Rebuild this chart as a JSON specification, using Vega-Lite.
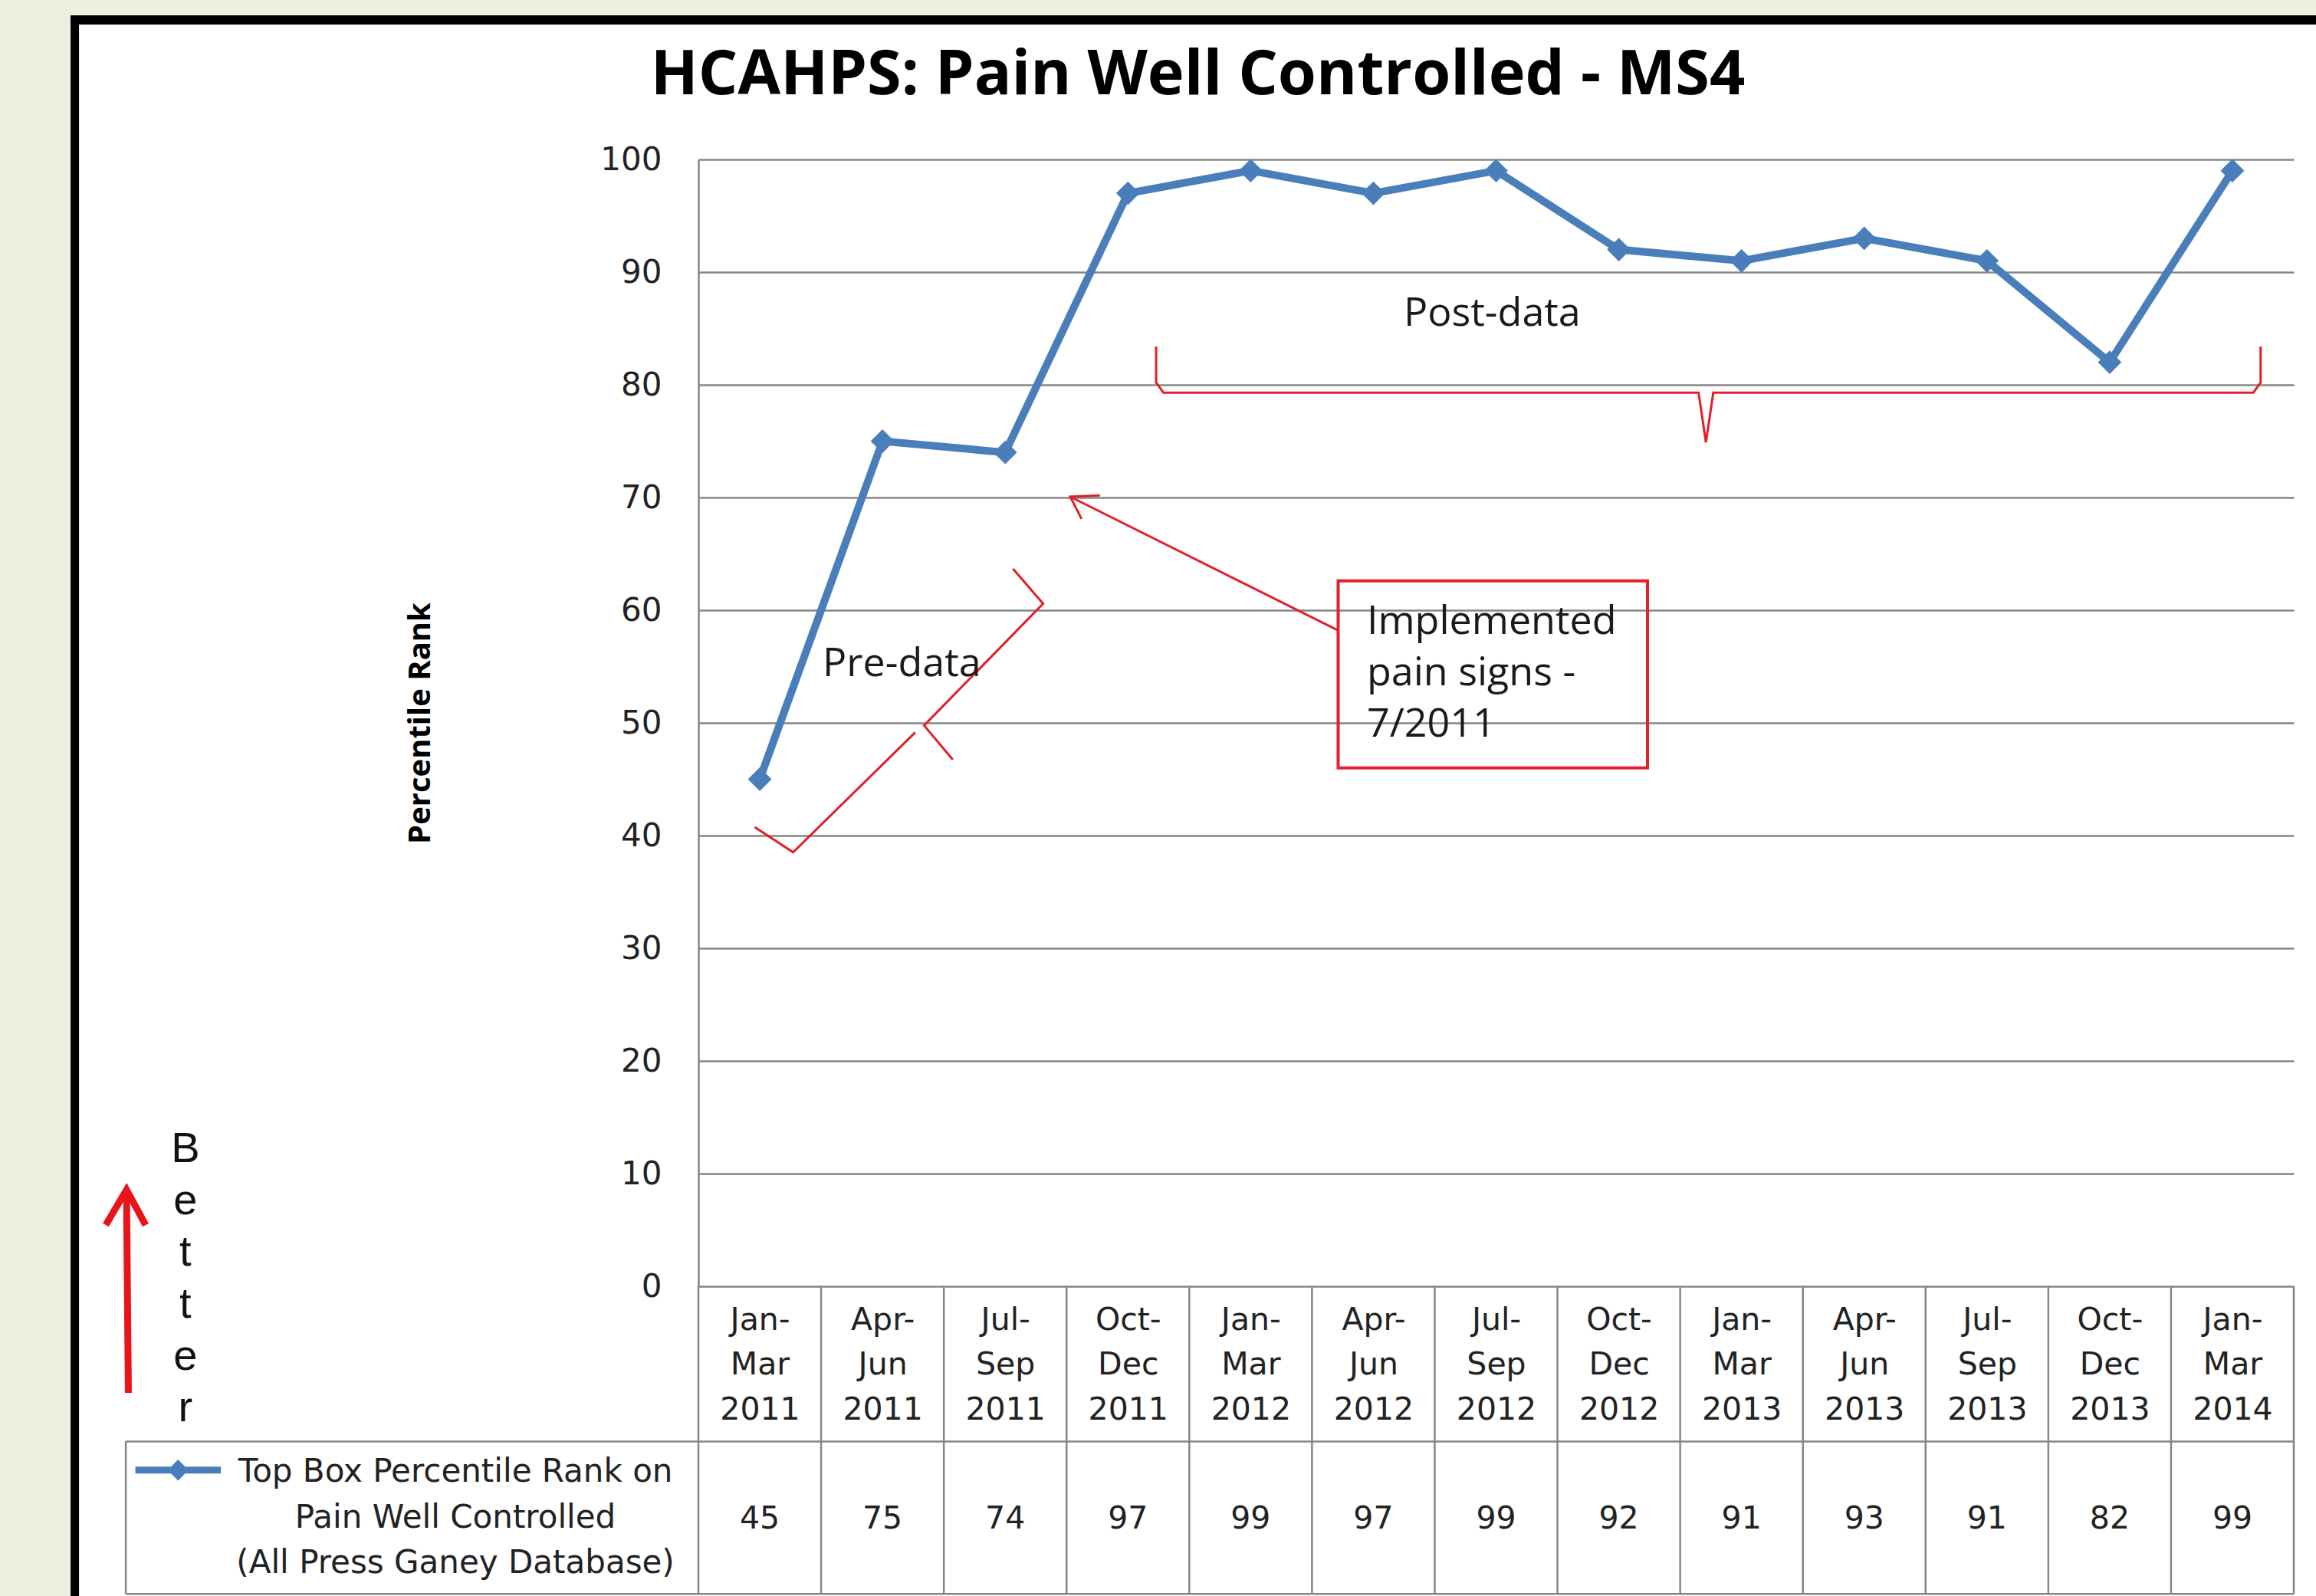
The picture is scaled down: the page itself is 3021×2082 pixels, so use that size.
{
  "$schema": "https://vega.github.io/schema/vega-lite/v6.json",
  "width": 2081,
  "height": 1470,
  "autosize": {"type": "none"},
  "padding": {"left": 911, "top": 208, "right": 29, "bottom": 404},
  "background": "#ffffff",
  "config": {"view": {"stroke": null}},
  "datasets": {
    "series": [
      {"quarter": "Jan-\nMar\n2011", "rank": 45},
      {"quarter": "Apr-\nJun\n2011", "rank": 75},
      {"quarter": "Jul-\nSep\n2011", "rank": 74},
      {"quarter": "Oct-\nDec\n2011", "rank": 97},
      {"quarter": "Jan-\nMar\n2012", "rank": 99},
      {"quarter": "Apr-\nJun\n2012", "rank": 97},
      {"quarter": "Jul-\nSep\n2012", "rank": 99},
      {"quarter": "Oct-\nDec\n2012", "rank": 92},
      {"quarter": "Jan-\nMar\n2013", "rank": 91},
      {"quarter": "Apr-\nJun\n2013", "rank": 93},
      {"quarter": "Jul-\nSep\n2013", "rank": 91},
      {"quarter": "Oct-\nDec\n2013", "rank": 82},
      {"quarter": "Jan-\nMar\n2014", "rank": 99}
    ],
    "strips": [
      {"x": -6, "x2": -5.116, "y": -40, "y2": 125},
      {"x": -6, "x2": 14, "y": 112.79, "y2": 125}
    ],
    "frameBars": [
      {"x": -5.116, "x2": -5.047, "y": -40, "y2": 112.79},
      {"x": -5.116, "x2": 14, "y": 111.97, "y2": 112.79}
    ],
    "tableLines": [
      {"x": 0, "x2": 0, "y": 0, "y2": -27.3},
      {"x": 1, "x2": 1, "y": 0, "y2": -27.3},
      {"x": 2, "x2": 2, "y": 0, "y2": -27.3},
      {"x": 3, "x2": 3, "y": 0, "y2": -27.3},
      {"x": 4, "x2": 4, "y": 0, "y2": -27.3},
      {"x": 5, "x2": 5, "y": 0, "y2": -27.3},
      {"x": 6, "x2": 6, "y": 0, "y2": -27.3},
      {"x": 7, "x2": 7, "y": 0, "y2": -27.3},
      {"x": 8, "x2": 8, "y": 0, "y2": -27.3},
      {"x": 9, "x2": 9, "y": 0, "y2": -27.3},
      {"x": 10, "x2": 10, "y": 0, "y2": -27.3},
      {"x": 11, "x2": 11, "y": 0, "y2": -27.3},
      {"x": 12, "x2": 12, "y": 0, "y2": -27.3},
      {"x": 13, "x2": 13, "y": 0, "y2": -27.3},
      {"x": -4.666, "x2": -4.666, "y": -13.78, "y2": -27.3},
      {"x": -4.666, "x2": 13, "y": -13.78, "y2": -13.78},
      {"x": -4.666, "x2": 13, "y": -27.3, "y2": -27.3}
    ],
    "redLines": [
      {"path": "post", "i": 0, "x": 3.73, "y": 83.4},
      {"path": "post", "i": 1, "x": 3.73, "y": 80.2},
      {"path": "post", "i": 2, "x": 3.79, "y": 79.3},
      {"path": "post", "i": 3, "x": 8.15, "y": 79.3},
      {"path": "post", "i": 4, "x": 8.21, "y": 74.9},
      {"path": "post", "i": 5, "x": 8.27, "y": 79.3},
      {"path": "post", "i": 6, "x": 12.67, "y": 79.3},
      {"path": "post", "i": 7, "x": 12.73, "y": 80.2},
      {"path": "post", "i": 8, "x": 12.73, "y": 83.4},
      {"path": "preA", "i": 0, "x": 2.564, "y": 63.67},
      {"path": "preA", "i": 1, "x": 2.809, "y": 60.58},
      {"path": "preA", "i": 2, "x": 1.839, "y": 49.77},
      {"path": "preA", "i": 3, "x": 2.073, "y": 46.73},
      {"path": "preB", "i": 0, "x": 1.767, "y": 49.16},
      {"path": "preB", "i": 1, "x": 0.772, "y": 38.52},
      {"path": "preB", "i": 2, "x": 0.459, "y": 40.75},
      {"path": "callShaft", "i": 0, "x": 5.213, "y": 58.2},
      {"path": "callShaft", "i": 1, "x": 3.03, "y": 70.07},
      {"path": "callHead", "i": 0, "x": 3.272, "y": 70.18},
      {"path": "callHead", "i": 1, "x": 3.03, "y": 70.07},
      {"path": "callHead", "i": 2, "x": 3.122, "y": 68.1}
    ],
    "calloutBox": [
      {"x": 5.213, "x2": 7.734, "y": 46.0, "y2": 62.6}
    ],
    "betterArrow": [
      {"path": "shaft", "i": 0, "x": -4.645, "y": -9.46},
      {"path": "shaft", "i": 1, "x": -4.66, "y": 8.2},
      {"path": "head", "i": 0, "x": -4.829, "y": 5.44},
      {"path": "head", "i": 1, "x": -4.66, "y": 8.57},
      {"path": "head", "i": 2, "x": -4.504, "y": 5.44}
    ],
    "notes": [
      {"x": 1.012, "y": 54.15, "text": "Pre-data"},
      {"x": 5.747, "y": 85.24, "text": "Post-data"},
      {"x": 5.447, "y": 57.9, "text": "Implemented\npain signs -\n7/2011"}
    ],
    "heading": [
      {"x": 4.07, "y": 105.8, "text": "HCAHPS: Pain Well Controlled - MS4"}
    ],
    "better": [
      {"x": -4.18, "y": 11.0, "text": "B\ne\nt\nt\ne\nr"}
    ],
    "legendLine": [
      {"x": -4.588, "y": -16.31},
      {"x": -3.891, "y": -16.31}
    ],
    "legendMarker": [
      {"x": -4.24, "y": -16.31}
    ],
    "legendText": [
      {"x": -1.98, "y": -17.35, "text": "Top Box Percentile Rank on\nPain Well Controlled\n(All Press Ganey Database)"}
    ]
  },
  "layer": [
    {
      "layer": [
        {
          "data": {"name": "strips"},
          "mark": {"type": "rect", "fill": "#ebefe0", "clip": false},
          "encoding": {
            "x": {"field": "x", "type": "quantitative", "scale": {"domain": [0, 13], "nice": false, "zero": false}, "axis": null},
            "x2": {"field": "x2"},
            "y": {"field": "y", "type": "quantitative", "scale": {"domain": [0, 100], "nice": false}},
            "y2": {"field": "y2"}
          }
        },
        {
          "data": {"name": "frameBars"},
          "mark": {"type": "rect", "fill": "#000000", "clip": false},
          "encoding": {
            "x": {"field": "x", "type": "quantitative", "scale": {"domain": [0, 13], "nice": false, "zero": false}, "axis": null},
            "x2": {"field": "x2"},
            "y": {"field": "y", "type": "quantitative", "scale": {"domain": [0, 100], "nice": false}},
            "y2": {"field": "y2"}
          }
        },
        {
          "data": {"name": "tableLines"},
          "mark": {"type": "rule", "color": "#868686", "strokeWidth": 2.5, "clip": false},
          "encoding": {
            "x": {"field": "x", "type": "quantitative", "scale": {"domain": [0, 13], "nice": false, "zero": false}, "axis": null},
            "x2": {"field": "x2"},
            "y": {"field": "y", "type": "quantitative", "scale": {"domain": [0, 100], "nice": false}},
            "y2": {"field": "y2"}
          }
        },
        {
          "data": {"name": "redLines"},
          "mark": {"type": "line", "color": "#e0202a", "strokeWidth": 3, "clip": false},
          "encoding": {
            "x": {"field": "x", "type": "quantitative", "scale": {"domain": [0, 13], "nice": false, "zero": false}, "axis": null},
            "y": {"field": "y", "type": "quantitative", "scale": {"domain": [0, 100], "nice": false}},
            "detail": {"field": "path"},
            "order": {"field": "i"}
          }
        },
        {
          "data": {"name": "calloutBox"},
          "mark": {"type": "rect", "fill": "transparent", "stroke": "#e0202a", "strokeWidth": 4, "clip": false},
          "encoding": {
            "x": {"field": "x", "type": "quantitative", "scale": {"domain": [0, 13], "nice": false, "zero": false}, "axis": null},
            "x2": {"field": "x2"},
            "y": {"field": "y", "type": "quantitative", "scale": {"domain": [0, 100], "nice": false}},
            "y2": {"field": "y2"}
          }
        },
        {
          "data": {"name": "betterArrow"},
          "mark": {"type": "line", "color": "#e8141c", "strokeWidth": 9, "strokeJoin": "miter", "clip": false},
          "encoding": {
            "x": {"field": "x", "type": "quantitative", "scale": {"domain": [0, 13], "nice": false, "zero": false}, "axis": null},
            "y": {"field": "y", "type": "quantitative", "scale": {"domain": [0, 100], "nice": false}},
            "detail": {"field": "path"},
            "order": {"field": "i"}
          }
        },
        {
          "data": {"name": "notes"},
          "mark": {"type": "text", "font": "Open Sans", "fontSize": 52, "color": "#1a1a1a", "align": "left", "baseline": "alphabetic", "lineBreak": "\n", "lineHeight": 67, "clip": false},
          "encoding": {
            "x": {"field": "x", "type": "quantitative", "scale": {"domain": [0, 13], "nice": false, "zero": false}, "axis": null},
            "y": {"field": "y", "type": "quantitative", "scale": {"domain": [0, 100], "nice": false}},
            "text": {"field": "text"}
          }
        },
        {
          "data": {"name": "heading"},
          "mark": {"type": "text", "font": "Open Sans", "fontWeight": "bold", "fontSize": 81, "color": "#000000", "align": "center", "baseline": "alphabetic", "clip": false},
          "encoding": {
            "x": {"field": "x", "type": "quantitative", "scale": {"domain": [0, 13], "nice": false, "zero": false}, "axis": null},
            "y": {"field": "y", "type": "quantitative", "scale": {"domain": [0, 100], "nice": false}},
            "text": {"field": "text"}
          }
        },
        {
          "data": {"name": "better"},
          "mark": {"type": "text", "font": "Liberation Sans", "fontSize": 56, "color": "#111111", "align": "center", "baseline": "alphabetic", "lineBreak": "\n", "lineHeight": 67.6, "clip": false},
          "encoding": {
            "x": {"field": "x", "type": "quantitative", "scale": {"domain": [0, 13], "nice": false, "zero": false}, "axis": null},
            "y": {"field": "y", "type": "quantitative", "scale": {"domain": [0, 100], "nice": false}},
            "text": {"field": "text"}
          }
        },
        {
          "data": {"name": "legendLine"},
          "mark": {"type": "line", "color": "#4a7ebb", "strokeWidth": 9, "clip": false},
          "encoding": {
            "x": {"field": "x", "type": "quantitative", "scale": {"domain": [0, 13], "nice": false, "zero": false}, "axis": null},
            "y": {"field": "y", "type": "quantitative", "scale": {"domain": [0, 100], "nice": false}}
          }
        },
        {
          "data": {"name": "legendMarker"},
          "mark": {"type": "point", "shape": "diamond", "size": 750, "filled": true, "color": "#4a7ebb", "opacity": 1, "clip": false},
          "encoding": {
            "x": {"field": "x", "type": "quantitative", "scale": {"domain": [0, 13], "nice": false, "zero": false}, "axis": null},
            "y": {"field": "y", "type": "quantitative", "scale": {"domain": [0, 100], "nice": false}}
          }
        },
        {
          "data": {"name": "legendText"},
          "mark": {"type": "text", "font": "DejaVu Sans", "fontSize": 42, "color": "#222222", "align": "center", "baseline": "alphabetic", "lineBreak": "\n", "lineHeight": 59.5, "clip": false},
          "encoding": {
            "x": {"field": "x", "type": "quantitative", "scale": {"domain": [0, 13], "nice": false, "zero": false}, "axis": null},
            "y": {"field": "y", "type": "quantitative", "scale": {"domain": [0, 100], "nice": false}},
            "text": {"field": "text"}
          }
        }
      ]
    },
    {
      "data": {"name": "series"},
      "layer": [
        {
          "mark": {"type": "line", "color": "#4a7ebb", "strokeWidth": 10, "clip": false, "point": {"shape": "diamond", "size": 950, "filled": true, "color": "#4a7ebb", "opacity": 1}},
          "encoding": {
            "x": {
              "field": "quarter", "type": "nominal", "sort": null,
              "scale": {"type": "point", "padding": 0.5},
              "axis": {
                "title": null,
                "labelExpr": "split(datum.label, '\\n')",
                "labelFont": "DejaVu Sans",
                "labelFontSize": 41,
                "labelColor": "#222222",
                "labelLineHeight": 58.5,
                "labelPadding": 24,
                "labelAngle": 0,
                "labelBaseline": "top",
                "labelLimit": 400,
                "ticks": false,
                "domain": false,
                "grid": false
              }
            },
            "y": {
              "field": "rank", "type": "quantitative",
              "scale": {"domain": [0, 100], "nice": false},
              "axis": {
                "title": "Percentile Rank",
                "titleFont": "Open Sans",
                "titleFontWeight": "bold",
                "titleFontSize": 40,
                "titleColor": "#000000",
                "titlePadding": 214,
                "values": [0, 10, 20, 30, 40, 50, 60, 70, 80, 90, 100],
                "labelFont": "DejaVu Sans",
                "labelFontSize": 42,
                "labelColor": "#222222",
                "labelPadding": 48,
                "ticks": false,
                "domain": true,
                "domainColor": "#868686",
                "domainWidth": 2.5,
                "grid": true,
                "gridColor": "#868686",
                "gridWidth": 2.5
              }
            }
          }
        },
        {
          "mark": {"type": "text", "font": "DejaVu Sans", "fontSize": 41, "color": "#222222", "baseline": "middle", "align": "center", "clip": false},
          "encoding": {
            "x": {"field": "quarter", "type": "nominal", "sort": null, "scale": {"type": "point", "padding": 0.5}},
            "y": {"datum": -20.68, "type": "quantitative", "scale": {"domain": [0, 100], "nice": false}},
            "text": {"field": "rank", "type": "quantitative"}
          }
        }
      ]
    }
  ],
  "resolve": {"scale": {"x": "independent"}}
}
